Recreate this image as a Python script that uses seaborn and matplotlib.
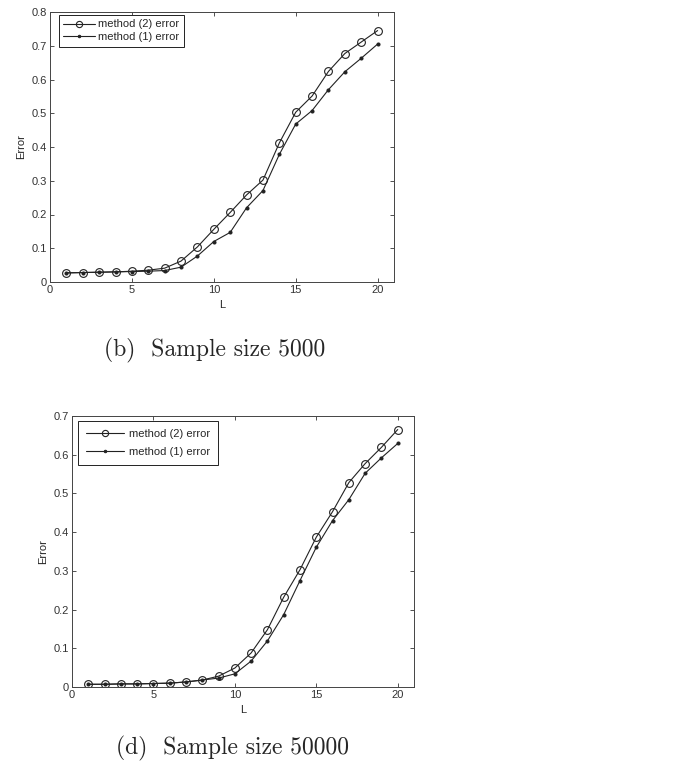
import numpy as np
import pandas as pd
import matplotlib
matplotlib.use("Agg")
import matplotlib.pyplot as plt
import seaborn as sns

L = list(range(1, 21))
top_method2 = [0.027, 0.028, 0.029, 0.030, 0.032, 0.035, 0.041, 0.062, 0.104, 0.156,
               0.206, 0.258, 0.302, 0.412, 0.503, 0.551, 0.624, 0.677, 0.711, 0.745]
top_method1 = [0.027, 0.028, 0.029, 0.030, 0.031, 0.032, 0.034, 0.044, 0.077, 0.120,
               0.147, 0.220, 0.271, 0.378, 0.468, 0.508, 0.570, 0.623, 0.663, 0.705]
bot_method2 = [0.007, 0.007, 0.008, 0.008, 0.009, 0.010, 0.013, 0.018, 0.028, 0.049,
               0.088, 0.148, 0.232, 0.303, 0.387, 0.453, 0.528, 0.577, 0.619, 0.665]
bot_method1 = [0.007, 0.007, 0.008, 0.008, 0.009, 0.010, 0.013, 0.018, 0.023, 0.034,
               0.067, 0.119, 0.187, 0.275, 0.361, 0.430, 0.484, 0.552, 0.592, 0.629]
labels = ["method (2) error", "method (1) error"]
captions = ["(b)  Sample size 5000", "(d)  Sample size 50000"]
xticks = [0, 5, 10, 15, 20]
top_yticks = [0, 0.1, 0.2, 0.3, 0.4, 0.5, 0.6, 0.7, 0.8]
bot_yticks = [0, 0.1, 0.2, 0.3, 0.4, 0.5, 0.6, 0.7]

sns.set_theme(style="white")
plt.rcParams["font.family"] = ["Liberation Sans", "DejaVu Sans"]
plt.rcParams["xtick.direction"] = "in"
plt.rcParams["ytick.direction"] = "in"

fig = plt.figure(figsize=(6.99, 7.67), dpi=100)

def draw(ax, m2, m1, yticks, ylim, leg_kw, anchor):
    df = pd.DataFrame({"L": L, "m2": m2, "m1": m1})
    sns.lineplot(data=df, x="L", y="m2", ax=ax, color="#222222", lw=0.8,
                 marker="o", markersize=5.6, markerfacecolor="none",
                 markeredgecolor="#222222", markeredgewidth=0.8, label=labels[0])
    sns.lineplot(data=df, x="L", y="m1", ax=ax, color="#222222", lw=0.8,
                 marker="o", markersize=2.2, markerfacecolor="#222222",
                 markeredgecolor="#222222", label=labels[1])
    ax.set_xlim(0, 21)
    ax.set_ylim(*ylim)
    ax.set_xticks(xticks)
    ax.set_yticks(yticks)
    ax.set_yticklabels(["0" if t == 0 else f"{t:.1f}" for t in yticks])
    ax.tick_params(axis="both", which="both", labelsize=8, length=3, width=0.6,
                   top=True, right=True, bottom=True, left=True, pad=2,
                   colors="#333333")
    for s in ax.spines.values():
        s.set_color("#444444")
        s.set_linewidth(0.7)
    ax.set_xlabel("L", fontsize=8, labelpad=4)
    ax.set_ylabel("Error", fontsize=8, labelpad=4)
    leg = ax.legend(loc="upper left", bbox_to_anchor=anchor, borderaxespad=0,
                    fontsize=8, frameon=True, fancybox=False, edgecolor="#222222",
                    framealpha=1, markerscale=0.8, **leg_kw)
    leg.get_frame().set_linewidth(0.7)

ax1 = fig.add_axes([50/699, 1-282/767, 344/699, 270/767])
draw(ax1, top_method2, top_method1, top_yticks, (0, 0.8),
     dict(handlelength=2.8, handletextpad=0.35, labelspacing=0.25, borderpad=0.4),
     (9/344, 1-3/270))
ax2 = fig.add_axes([72/699, 1-687/767, 342/699, 271/767])
draw(ax2, bot_method2, bot_method1, bot_yticks, (0, 0.7),
     dict(handlelength=3.4, handletextpad=0.5, labelspacing=0.75, borderpad=0.7),
     (6/342, 1-5/271))

fig.text(215/699, 1-350/767, captions[0], fontsize=17, family="cmr10", va="center", ha="center")
fig.text(232/699, 1-748/767, captions[1], fontsize=17, family="cmr10", va="center", ha="center")

fig.savefig("out.png", dpi=100)
